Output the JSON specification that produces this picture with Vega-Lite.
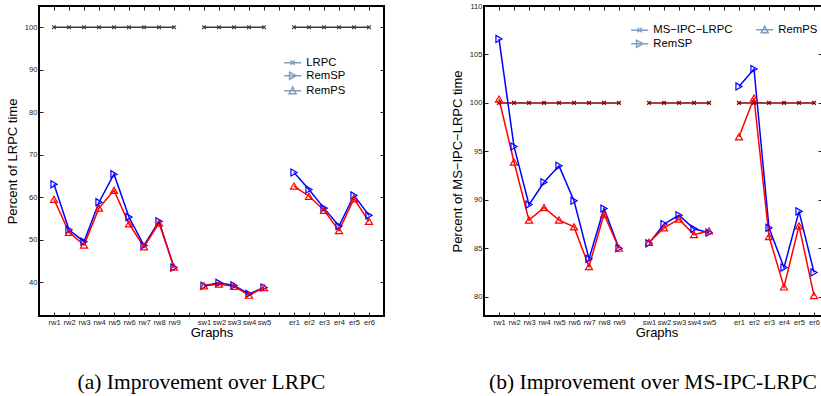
{
"$schema": "https://vega.github.io/schema/vega-lite/v6.json",
"padding": {"left": 5, "top": 1, "right": 0, "bottom": 0},
"background": "white",
"config": {
  "font": "Liberation Sans",
  "view": {"stroke": "black", "strokeWidth": 2},
  "axis": {"grid": false, "domain": false, "labelFontSize": 7.6, "labelColor": "#222", "tickColor": "#222", "tickSize": -4, "labelPadding": 6, "titleFontSize": 13, "titleFontWeight": "normal", "titleColor": "black"},
  "legend": {"title": null, "labelFontSize": 11.3, "labelColor": "black", "symbolStrokeWidth": 1.5, "symbolSize": 60, "labelOffset": 8, "rowPadding": 1}
},
"datasets": {"d": [
{"panel":"a","graph":"rw1","group":"rw","series":"LRPC","value":100},
{"panel":"a","graph":"rw2","group":"rw","series":"LRPC","value":100},
{"panel":"a","graph":"rw3","group":"rw","series":"LRPC","value":100},
{"panel":"a","graph":"rw4","group":"rw","series":"LRPC","value":100},
{"panel":"a","graph":"rw5","group":"rw","series":"LRPC","value":100},
{"panel":"a","graph":"rw6","group":"rw","series":"LRPC","value":100},
{"panel":"a","graph":"rw7","group":"rw","series":"LRPC","value":100},
{"panel":"a","graph":"rw8","group":"rw","series":"LRPC","value":100},
{"panel":"a","graph":"rw9","group":"rw","series":"LRPC","value":100},
{"panel":"a","graph":"sw1","group":"sw","series":"LRPC","value":100},
{"panel":"a","graph":"sw2","group":"sw","series":"LRPC","value":100},
{"panel":"a","graph":"sw3","group":"sw","series":"LRPC","value":100},
{"panel":"a","graph":"sw4","group":"sw","series":"LRPC","value":100},
{"panel":"a","graph":"sw5","group":"sw","series":"LRPC","value":100},
{"panel":"a","graph":"er1","group":"er","series":"LRPC","value":100},
{"panel":"a","graph":"er2","group":"er","series":"LRPC","value":100},
{"panel":"a","graph":"er3","group":"er","series":"LRPC","value":100},
{"panel":"a","graph":"er4","group":"er","series":"LRPC","value":100},
{"panel":"a","graph":"er5","group":"er","series":"LRPC","value":100},
{"panel":"a","graph":"er6","group":"er","series":"LRPC","value":100},
{"panel":"a","graph":"rw1","group":"rw","series":"RemSP","value":63.0},
{"panel":"a","graph":"rw2","group":"rw","series":"RemSP","value":52.3},
{"panel":"a","graph":"rw3","group":"rw","series":"RemSP","value":49.5},
{"panel":"a","graph":"rw4","group":"rw","series":"RemSP","value":58.8},
{"panel":"a","graph":"rw5","group":"rw","series":"RemSP","value":65.4},
{"panel":"a","graph":"rw6","group":"rw","series":"RemSP","value":55.3},
{"panel":"a","graph":"rw7","group":"rw","series":"RemSP","value":48.6},
{"panel":"a","graph":"rw8","group":"rw","series":"RemSP","value":54.3},
{"panel":"a","graph":"rw9","group":"rw","series":"RemSP","value":43.4},
{"panel":"a","graph":"sw1","group":"sw","series":"RemSP","value":39.1},
{"panel":"a","graph":"sw2","group":"sw","series":"RemSP","value":39.8},
{"panel":"a","graph":"sw3","group":"sw","series":"RemSP","value":39.2},
{"panel":"a","graph":"sw4","group":"sw","series":"RemSP","value":37.2},
{"panel":"a","graph":"sw5","group":"sw","series":"RemSP","value":38.7},
{"panel":"a","graph":"er1","group":"er","series":"RemSP","value":65.8},
{"panel":"a","graph":"er2","group":"er","series":"RemSP","value":61.8},
{"panel":"a","graph":"er3","group":"er","series":"RemSP","value":57.4},
{"panel":"a","graph":"er4","group":"er","series":"RemSP","value":53.2},
{"panel":"a","graph":"er5","group":"er","series":"RemSP","value":60.4},
{"panel":"a","graph":"er6","group":"er","series":"RemSP","value":55.7},
{"panel":"a","graph":"rw1","group":"rw","series":"RemPS","value":59.5},
{"panel":"a","graph":"rw2","group":"rw","series":"RemPS","value":51.7},
{"panel":"a","graph":"rw3","group":"rw","series":"RemPS","value":48.7},
{"panel":"a","graph":"rw4","group":"rw","series":"RemPS","value":57.4},
{"panel":"a","graph":"rw5","group":"rw","series":"RemPS","value":61.6},
{"panel":"a","graph":"rw6","group":"rw","series":"RemPS","value":53.7},
{"panel":"a","graph":"rw7","group":"rw","series":"RemPS","value":48.3},
{"panel":"a","graph":"rw8","group":"rw","series":"RemPS","value":53.9},
{"panel":"a","graph":"rw9","group":"rw","series":"RemPS","value":43.5},
{"panel":"a","graph":"sw1","group":"sw","series":"RemPS","value":39.1},
{"panel":"a","graph":"sw2","group":"sw","series":"RemPS","value":39.5},
{"panel":"a","graph":"sw3","group":"sw","series":"RemPS","value":39.0},
{"panel":"a","graph":"sw4","group":"sw","series":"RemPS","value":36.9},
{"panel":"a","graph":"sw5","group":"sw","series":"RemPS","value":38.7},
{"panel":"a","graph":"er1","group":"er","series":"RemPS","value":62.6},
{"panel":"a","graph":"er2","group":"er","series":"RemPS","value":60.2},
{"panel":"a","graph":"er3","group":"er","series":"RemPS","value":56.9},
{"panel":"a","graph":"er4","group":"er","series":"RemPS","value":52.1},
{"panel":"a","graph":"er5","group":"er","series":"RemPS","value":59.6},
{"panel":"a","graph":"er6","group":"er","series":"RemPS","value":54.3},
{"panel":"b","graph":"rw1","group":"rw","series":"MS-IPC-LRPC","value":100},
{"panel":"b","graph":"rw2","group":"rw","series":"MS-IPC-LRPC","value":100},
{"panel":"b","graph":"rw3","group":"rw","series":"MS-IPC-LRPC","value":100},
{"panel":"b","graph":"rw4","group":"rw","series":"MS-IPC-LRPC","value":100},
{"panel":"b","graph":"rw5","group":"rw","series":"MS-IPC-LRPC","value":100},
{"panel":"b","graph":"rw6","group":"rw","series":"MS-IPC-LRPC","value":100},
{"panel":"b","graph":"rw7","group":"rw","series":"MS-IPC-LRPC","value":100},
{"panel":"b","graph":"rw8","group":"rw","series":"MS-IPC-LRPC","value":100},
{"panel":"b","graph":"rw9","group":"rw","series":"MS-IPC-LRPC","value":100},
{"panel":"b","graph":"sw1","group":"sw","series":"MS-IPC-LRPC","value":100},
{"panel":"b","graph":"sw2","group":"sw","series":"MS-IPC-LRPC","value":100},
{"panel":"b","graph":"sw3","group":"sw","series":"MS-IPC-LRPC","value":100},
{"panel":"b","graph":"sw4","group":"sw","series":"MS-IPC-LRPC","value":100},
{"panel":"b","graph":"sw5","group":"sw","series":"MS-IPC-LRPC","value":100},
{"panel":"b","graph":"er1","group":"er","series":"MS-IPC-LRPC","value":100},
{"panel":"b","graph":"er2","group":"er","series":"MS-IPC-LRPC","value":100},
{"panel":"b","graph":"er3","group":"er","series":"MS-IPC-LRPC","value":100},
{"panel":"b","graph":"er4","group":"er","series":"MS-IPC-LRPC","value":100},
{"panel":"b","graph":"er5","group":"er","series":"MS-IPC-LRPC","value":100},
{"panel":"b","graph":"er6","group":"er","series":"MS-IPC-LRPC","value":100},
{"panel":"b","graph":"rw1","group":"rw","series":"RemSP","value":106.6},
{"panel":"b","graph":"rw2","group":"rw","series":"RemSP","value":95.5},
{"panel":"b","graph":"rw3","group":"rw","series":"RemSP","value":89.5},
{"panel":"b","graph":"rw4","group":"rw","series":"RemSP","value":91.8},
{"panel":"b","graph":"rw5","group":"rw","series":"RemSP","value":93.5},
{"panel":"b","graph":"rw6","group":"rw","series":"RemSP","value":89.9},
{"panel":"b","graph":"rw7","group":"rw","series":"RemSP","value":83.9},
{"panel":"b","graph":"rw8","group":"rw","series":"RemSP","value":89.1},
{"panel":"b","graph":"rw9","group":"rw","series":"RemSP","value":85.0},
{"panel":"b","graph":"sw1","group":"sw","series":"RemSP","value":85.5},
{"panel":"b","graph":"sw2","group":"sw","series":"RemSP","value":87.5},
{"panel":"b","graph":"sw3","group":"sw","series":"RemSP","value":88.4},
{"panel":"b","graph":"sw4","group":"sw","series":"RemSP","value":87.0},
{"panel":"b","graph":"sw5","group":"sw","series":"RemSP","value":86.6},
{"panel":"b","graph":"er1","group":"er","series":"RemSP","value":101.7},
{"panel":"b","graph":"er2","group":"er","series":"RemSP","value":103.5},
{"panel":"b","graph":"er3","group":"er","series":"RemSP","value":87.1},
{"panel":"b","graph":"er4","group":"er","series":"RemSP","value":83.0},
{"panel":"b","graph":"er5","group":"er","series":"RemSP","value":88.8},
{"panel":"b","graph":"er6","group":"er","series":"RemSP","value":82.5},
{"panel":"b","graph":"rw1","group":"rw","series":"RemPS","value":100.4},
{"panel":"b","graph":"rw2","group":"rw","series":"RemPS","value":93.9},
{"panel":"b","graph":"rw3","group":"rw","series":"RemPS","value":87.9},
{"panel":"b","graph":"rw4","group":"rw","series":"RemPS","value":89.2},
{"panel":"b","graph":"rw5","group":"rw","series":"RemPS","value":87.9},
{"panel":"b","graph":"rw6","group":"rw","series":"RemPS","value":87.2},
{"panel":"b","graph":"rw7","group":"rw","series":"RemPS","value":83.1},
{"panel":"b","graph":"rw8","group":"rw","series":"RemPS","value":88.5},
{"panel":"b","graph":"rw9","group":"rw","series":"RemPS","value":85.0},
{"panel":"b","graph":"sw1","group":"sw","series":"RemPS","value":85.6},
{"panel":"b","graph":"sw2","group":"sw","series":"RemPS","value":87.1},
{"panel":"b","graph":"sw3","group":"sw","series":"RemPS","value":88.0},
{"panel":"b","graph":"sw4","group":"sw","series":"RemPS","value":86.4},
{"panel":"b","graph":"sw5","group":"sw","series":"RemPS","value":86.8},
{"panel":"b","graph":"er1","group":"er","series":"RemPS","value":96.5},
{"panel":"b","graph":"er2","group":"er","series":"RemPS","value":100.5},
{"panel":"b","graph":"er3","group":"er","series":"RemPS","value":86.2},
{"panel":"b","graph":"er4","group":"er","series":"RemPS","value":81.0},
{"panel":"b","graph":"er5","group":"er","series":"RemPS","value":87.3},
{"panel":"b","graph":"er6","group":"er","series":"RemPS","value":80.1}
]},
"spacing": 64,
"resolve": {"scale": {"x": "independent", "y": "independent", "color": "independent", "shape": "independent"}, "legend": {"color": "independent", "shape": "independent"}},
"hconcat": [
{
  "width": 345, "height": 310,
  "data": {"name": "d"},
  "transform": [{"filter": "datum.panel == 'a'"}],
  "title": {"text": "(a) Improvement over LRPC", "orient": "bottom", "offset": 32, "dx": -10, "font": "Liberation Serif", "fontSize": 21.5, "fontWeight": "normal", "color": "black"},
  "layer": [
    {
      "mark": {"type": "line", "strokeWidth": 1.5},
      "encoding": {
        "x": {"field": "graph", "type": "nominal", "sort": null, "scale": {"domain": ["rw1","rw2","rw3","rw4","rw5","rw6","rw7","rw8","rw9","gap1","sw1","sw2","sw3","sw4","sw5","gap2","er1","er2","er3","er4","er5","er6"], "range": [15, 330], "padding": 0}, "axis": {"orient": "bottom", "title": "Graphs", "labelAngle": 0, "labelExpr": "slice(datum.value,0,3) == 'gap' ? '' : datum.value", "titlePadding": 1}},
        "y": {"field": "value", "type": "quantitative", "scale": {"domain": [32, 105], "nice": false, "zero": false}, "axis": {"title": "Percent of LRPC time", "values": [40,50,60,70,80,90,100], "titlePadding": 5}},
        "color": {"field": "series", "type": "nominal", "scale": {"domain": ["LRPC","RemSP","RemPS"], "range": ["#3c3c3c","#0000ff","#ff0000"]}, "legend": null},
        "detail": {"field": "group"}
      }
    },
    {
      "transform": [{"filter": "datum.series == 'LRPC'"}],
      "mark": {"type": "point", "filled": false, "strokeWidth": 1.2, "opacity": 1, "size": 14, "shape": "M-1,-1L1,1M1,-1L-1,1"},
      "encoding": {
        "x": {"field": "graph", "type": "nominal", "sort": null, "axis": null},
        "y": {"field": "value", "type": "quantitative", "axis": null},
        "color": {"field": "series", "type": "nominal", "scale": {"domain": ["LRPC","RemSP","RemPS"], "range": ["#3c3c3c","#0000ff","#ff0000"]}, "legend": null}
      }
    },
    {
      "transform": [{"filter": "datum.series == 'RemSP'"}],
      "mark": {"type": "point", "filled": false, "strokeWidth": 1.2, "opacity": 1, "size": 50, "shape": "triangle-right"},
      "encoding": {
        "x": {"field": "graph", "type": "nominal", "sort": null, "axis": null},
        "y": {"field": "value", "type": "quantitative", "axis": null},
        "color": {"field": "series", "type": "nominal", "scale": {"domain": ["LRPC","RemSP","RemPS"], "range": ["#3c3c3c","#0000ff","#ff0000"]}, "legend": null}
      }
    },
    {
      "transform": [{"filter": "datum.series == 'RemPS'"}],
      "mark": {"type": "point", "filled": false, "strokeWidth": 1.2, "opacity": 1, "size": 50, "shape": "triangle-up"},
      "encoding": {
        "x": {"field": "graph", "type": "nominal", "sort": null, "axis": null},
        "y": {"field": "value", "type": "quantitative", "axis": null},
        "color": {"field": "series", "type": "nominal", "scale": {"domain": ["LRPC","RemSP","RemPS"], "range": ["#3c3c3c","#0000ff","#ff0000"]}, "legend": null}
      }
    },
    {
      "mark": {"type": "point", "opacity": 0},
      "encoding": {
        "x": {"field": "graph", "type": "nominal", "sort": null, "axis": {"orient": "top", "title": null, "labels": false}},
        "y": {"field": "value", "type": "quantitative", "axis": {"orient": "right", "title": null, "labels": false, "values": [40,50,60,70,80,90,100]}}
      }
    },
    {
      "transform": [{"filter": "datum.series == 'none'"}],
      "mark": {"type": "point", "filled": false, "strokeWidth": 1.5},
      "encoding": {
        "shape": {"field": "series", "type": "nominal", "scale": {"domain": ["LRPC","RemSP","RemPS"], "range": ["M-2.2,0H2.2M-0.55,-0.55L0.55,0.55M0.55,-0.55L-0.55,0.55", "M-2.2,0H2.2M-0.8,-0.9V0.9L0.9,0Z", "M-2.2,0H2.2M-0.9,0.8H0.9L0,-0.9Z"]},
          "legend": {"orient": "none", "legendX": 248, "legendY": 51, "direction": "vertical",
            "encode": {"symbols": {"stroke": {"condition": [{"test": "datum.value == 'RemSP'", "value": "#0000ff"}, {"test": "datum.value == 'RemPS'", "value": "#ff0000"}], "value": "#3c3c3c"}}}}}
      }
    }
  ],
  "resolve": {"scale": {"color": "independent"}, "axis": {"x": "independent", "y": "independent"}}
},
{
  "width": 338, "height": 310,
  "data": {"name": "d"},
  "transform": [{"filter": "datum.panel == 'b'"}],
  "title": {"text": "(b) Improvement over MS-IPC-LRPC", "orient": "bottom", "offset": 32, "font": "Liberation Serif", "fontSize": 21.5, "fontWeight": "normal", "color": "black"},
  "layer": [
    {
      "mark": {"type": "line", "strokeWidth": 1.5},
      "encoding": {
        "x": {"field": "graph", "type": "nominal", "sort": null, "scale": {"domain": ["rw1","rw2","rw3","rw4","rw5","rw6","rw7","rw8","rw9","gap1","sw1","sw2","sw3","sw4","sw5","gap2","er1","er2","er3","er4","er5","er6"], "range": [15, 330], "padding": 0}, "axis": {"orient": "bottom", "title": "Graphs", "labelAngle": 0, "labelExpr": "slice(datum.value,0,3) == 'gap' ? '' : datum.value", "titlePadding": 1}},
        "y": {"field": "value", "type": "quantitative", "scale": {"domain": [78, 110], "nice": false, "zero": false}, "axis": {"title": "Percent of MS−IPC−LRPC time", "values": [80,85,90,95,100,105,110], "titlePadding": 5}},
        "color": {"field": "series", "type": "nominal", "scale": {"domain": ["MS-IPC-LRPC","RemPS","RemSP"], "range": ["#800000","#ff0000","#0000ff"]}, "legend": null},
        "detail": {"field": "group"}
      }
    },
    {
      "transform": [{"filter": "datum.series == 'MS-IPC-LRPC'"}],
      "mark": {"type": "point", "filled": false, "strokeWidth": 1.2, "opacity": 1, "size": 14, "shape": "M-1,-1L1,1M1,-1L-1,1"},
      "encoding": {
        "x": {"field": "graph", "type": "nominal", "sort": null, "axis": null},
        "y": {"field": "value", "type": "quantitative", "axis": null},
        "color": {"field": "series", "type": "nominal", "scale": {"domain": ["MS-IPC-LRPC","RemPS","RemSP"], "range": ["#800000","#ff0000","#0000ff"]}, "legend": null}
      }
    },
    {
      "transform": [{"filter": "datum.series == 'RemSP'"}],
      "mark": {"type": "point", "filled": false, "strokeWidth": 1.2, "opacity": 1, "size": 50, "shape": "triangle-right"},
      "encoding": {
        "x": {"field": "graph", "type": "nominal", "sort": null, "axis": null},
        "y": {"field": "value", "type": "quantitative", "axis": null},
        "color": {"field": "series", "type": "nominal", "scale": {"domain": ["MS-IPC-LRPC","RemPS","RemSP"], "range": ["#800000","#ff0000","#0000ff"]}, "legend": null}
      }
    },
    {
      "transform": [{"filter": "datum.series == 'RemPS'"}],
      "mark": {"type": "point", "filled": false, "strokeWidth": 1.2, "opacity": 1, "size": 50, "shape": "triangle-up"},
      "encoding": {
        "x": {"field": "graph", "type": "nominal", "sort": null, "axis": null},
        "y": {"field": "value", "type": "quantitative", "axis": null},
        "color": {"field": "series", "type": "nominal", "scale": {"domain": ["MS-IPC-LRPC","RemPS","RemSP"], "range": ["#800000","#ff0000","#0000ff"]}, "legend": null}
      }
    },
    {
      "mark": {"type": "point", "opacity": 0},
      "encoding": {
        "x": {"field": "graph", "type": "nominal", "sort": null, "axis": {"orient": "top", "title": null, "labels": false}},
        "y": {"field": "value", "type": "quantitative", "axis": {"orient": "right", "title": null, "labels": false, "values": [80,85,90,95,100,105,110]}}
      }
    },
    {
      "transform": [{"filter": "datum.series == 'none'"}],
      "mark": {"type": "point", "filled": false, "strokeWidth": 1.5},
      "encoding": {
        "shape": {"field": "series", "type": "nominal", "scale": {"domain": ["MS-IPC-LRPC","RemPS","RemSP"], "range": ["M-2.2,0H2.2M-0.55,-0.55L0.55,0.55M0.55,-0.55L-0.55,0.55", "M-2.2,0H2.2M-0.9,0.8H0.9L0,-0.9Z", "M-2.2,0H2.2M-0.8,-0.9V0.9L0.9,0Z"]},
          "legend": {"orient": "none", "legendX": 150, "legendY": 18, "direction": "horizontal", "columns": 2, "columnPadding": 20, "labelExpr": "datum.label == 'MS-IPC-LRPC' ? 'MS−IPC−LRPC' : datum.label",
            "encode": {"symbols": {"stroke": {"condition": [{"test": "datum.value == 'RemSP'", "value": "#0000ff"}, {"test": "datum.value == 'RemPS'", "value": "#ff0000"}], "value": "#800000"}}}}}
      }
    }
  ],
  "resolve": {"scale": {"color": "independent"}, "axis": {"x": "independent", "y": "independent"}}
}
]
}
